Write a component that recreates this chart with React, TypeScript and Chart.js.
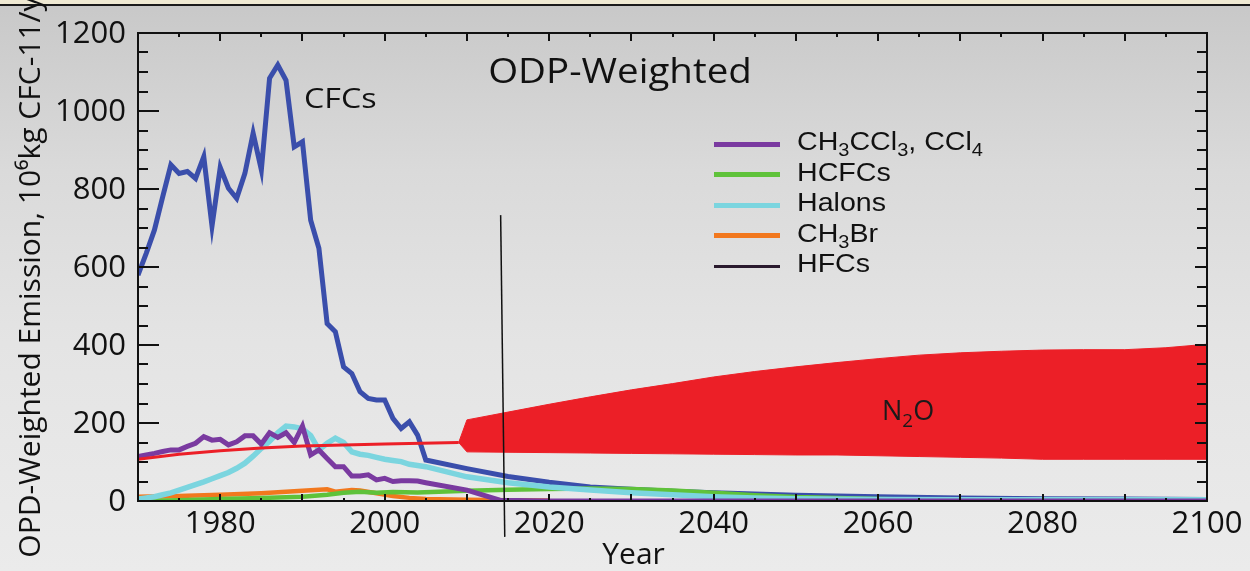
import { useEffect, useRef } from "react";
import { Chart, registerables } from "chart.js";

Chart.register(...registerables);

// ---------- data ----------
const cfcYears = [1970, 1971, 1972, 1973, 1974, 1975, 1976, 1977, 1978, 1979, 1980, 1981, 1982, 1983, 1984, 1985, 1986, 1987, 1988, 1989, 1990, 1991, 1992, 1993, 1994, 1995, 1996, 1997, 1998, 1999, 2000, 2001, 2002, 2003, 2004, 2005, 2010, 2015, 2020, 2025, 2030, 2035, 2040, 2045, 2050, 2060, 2070, 2080, 2090, 2100];
const cfcValues = [579, 635, 695, 780, 862, 840, 845, 827, 883, 705, 855, 802, 776, 840, 943, 849, 1084, 1118, 1079, 908, 921, 720, 648, 455, 434, 344, 327, 280, 263, 259, 259, 212, 186, 203, 169, 105, 83, 63, 48, 36, 30, 25, 21, 18, 15, 11, 8, 6, 5, 4];

const ch3cclYears = [1970, 1971, 1972, 1973, 1974, 1975, 1976, 1977, 1978, 1979, 1980, 1981, 1982, 1983, 1984, 1985, 1986, 1987, 1988, 1989, 1990, 1991, 1992, 1993, 1994, 1995, 1996, 1997, 1998, 1999, 2000, 2001, 2002, 2003, 2004, 2005, 2010, 2014, 2020, 2100];
const ch3cclValues = [114, 118, 122, 127, 131, 131, 140, 148, 165, 156, 158, 144, 152, 167, 167, 146, 175, 163, 175, 150, 192, 118, 131, 109, 88, 88, 64, 64, 67, 54, 58, 50, 52, 52, 51, 47, 28, 2, 0, 0];

const halonYears = [1970, 1971, 1972, 1973, 1974, 1975, 1976, 1977, 1978, 1979, 1980, 1981, 1982, 1983, 1984, 1985, 1986, 1987, 1988, 1989, 1990, 1991, 1992, 1993, 1994, 1995, 1996, 1997, 1998, 1999, 2000, 2001, 2002, 2003, 2004, 2005, 2010, 2015, 2020, 2025, 2030, 2035, 2040, 2045, 2050, 2060, 2070, 2080, 2090, 2100];
const halonValues = [5, 8, 11, 16, 21, 28, 35, 42, 49, 57, 65, 73, 84, 97, 115, 135, 153, 175, 192, 190, 185, 168, 131, 148, 161, 150, 126, 120, 117, 112, 107, 104, 101, 94, 91, 88, 62, 47, 36, 28, 21, 16, 11, 8, 6, 4, 3, 3, 3, 3];

const hcfcYears = [1970, 1975, 1980, 1985, 1990, 1993, 1995, 1997, 1999, 2001, 2004, 2010, 2015, 2020, 2025, 2030, 2035, 2040, 2045, 2050, 2060, 2070, 2080, 2100];
const hcfcValues = [0, 2, 5, 8, 11, 16, 21, 24, 21, 23, 22, 26, 29, 31, 32, 31, 27, 21, 15, 10, 5, 2, 1, 0];

const ch3brYears = [1970, 1975, 1980, 1985, 1990, 1993, 1994, 1996, 1997, 1999, 2001, 2003, 2005, 2010, 2015, 2020];
const ch3brValues = [11, 13, 16, 20, 26, 30, 24, 28, 27, 20, 13, 8, 5, 3, 2, 1];

const n2oYears = [1970, 1975, 1980, 1985, 1990, 2000, 2009];
const n2oValues = [107, 120, 129, 136, 141, 146, 150];

const n2oBandYears = [2009, 2010, 2015, 2020, 2025, 2030, 2035, 2040, 2045, 2050, 2055, 2060, 2065, 2070, 2075, 2080, 2085, 2090, 2095, 2100];
const n2oBandUpper = [150, 208, 228, 248, 267, 285, 301, 318, 332, 344, 355, 365, 374, 380, 384, 387, 388, 388, 393, 402];
const n2oBandLower = [150, 126, 125, 124, 123, 122, 121, 120, 119, 118, 118, 116, 114, 112, 110, 107, 107, 107, 107, 107];

const hfcYears = [2014.1, 2014.6];
const hfcValues = [733, -92];

const yTickLabels = [0, 200, 400, 600, 800, 1000, 1200];
const xTickLabels = [1980, 2000, 2020, 2040, 2060, 2080, 2100];

const legendLabels = ["CH3CCl3, CCl4", "HCFCs", "Halons", "CH3Br", "HFCs"];
const legendColors = ["#7a3aa0", "#5fc23a", "#7bd5df", "#f2781e", "#2a1a2e"];
const legendWidths = [5, 5, 5, 5, 3];

const pts = (xs: number[], ys: number[]) => xs.map((x, i) => ({ x, y: ys[i] }));

const FONT = '"Open Sans", "DejaVu Sans", sans-serif';
const NBSP = "\u00a0";

const frameTicks = {
  id: "frameTicks",
  afterDatasetsDraw(chart: any) {
    const { ctx, chartArea: a, scales } = chart;
    const x = scales.x;
    const y = scales.y;
    ctx.save();
    ctx.strokeStyle = "#111";
    ctx.lineWidth = 2;
    ctx.strokeRect(a.left, a.top, a.right - a.left, a.bottom - a.top);
    ctx.beginPath();
    for (const t of y.ticks) {
      const py = Math.round(y.getPixelForValue(t.value));
      const major = t.value % 200 === 0;
      ctx.moveTo(a.left, py);
      ctx.lineTo(a.left + (major ? 21 : 10), py);
      ctx.moveTo(a.right, py);
      ctx.lineTo(a.right - (major ? 12 : 10), py);
    }
    for (const t of x.ticks) {
      const px = Math.round(x.getPixelForValue(t.value));
      const major = t.value % 10 === 0;
      ctx.moveTo(px, a.bottom);
      ctx.lineTo(px, a.bottom - (major ? 7 : 3));
      ctx.moveTo(px, a.top);
      ctx.lineTo(px, a.top + (major ? 8 : 4));
    }
    ctx.stroke();
    ctx.restore();
  },
};

function Sub({ text }: { text: string }) {
  const parts = text.split(/(\d)/).filter((p) => p !== "");
  return (
    <>
      {parts.map((p, i) =>
        /\d/.test(p) ? (
          <sub key={i} style={{ fontSize: "0.7em", verticalAlign: "-0.35em", lineHeight: 0 }}>
            {p}
          </sub>
        ) : (
          <span key={i}>{p}</span>
        )
      )}
    </>
  );
}

export default function App() {
  const ref = useRef<HTMLCanvasElement>(null);

  useEffect(() => {
    const line = (label: string, xs: number[], ys: number[], color: string, width: number, order: number) => ({
      label,
      data: pts(xs, ys),
      borderColor: color,
      backgroundColor: color,
      borderWidth: width,
      pointRadius: 0,
      tension: 0,
      fill: false,
      order,
    });

    const chart = new Chart(ref.current!, {
      type: "line",
      data: {
        datasets: [
          { ...line("HFCs", hfcYears, hfcValues, "#111", 1.5, 0), clip: false } as any,
          { ...line("N₂O upper", n2oBandYears, n2oBandUpper, "#ec1f27", 1, 1) },
          { ...line("N₂O lower", n2oBandYears, n2oBandLower, "#ec1f27", 1, 1), fill: "-1", backgroundColor: "#ec1f27" },
          line("N₂O", n2oYears, n2oValues, "#ec1f27", 3, 2),
          line("CH₃CCl₃, CCl₄", ch3cclYears, ch3cclValues, legendColors[0], 5, 3),
          line("Halons", halonYears, halonValues, legendColors[2], 5.5, 4),
          line("HCFCs", hcfcYears, hcfcValues, legendColors[1], 4.5, 5),
          line("CFCs", cfcYears, cfcValues, "#3a4eab", 5, 6),
          line("CH₃Br", ch3brYears, ch3brValues, legendColors[3], 4.5, 7),
        ],
      },
      options: {
        responsive: false,
        animation: false,
        devicePixelRatio: 1,
        layout: { padding: { top: 33, right: 43, left: 0, bottom: 0 } },
        plugins: { legend: { display: false }, tooltip: { enabled: false } },
        scales: {
          x: {
            type: "linear",
            min: 1970,
            max: 2100,
            border: { display: false },
            grid: { display: false, drawTicks: false },
            ticks: {
              stepSize: 5,
              autoSkip: false,
              maxRotation: 0,
              padding: 5,
              color: "#111",
              font: { family: FONT, size: 31 },
              callback: (v: any) => (xTickLabels.includes(Number(v)) ? String(v) : ""),
            },
            title: {
              display: true,
              text: "Year" + NBSP.repeat(10),
              color: "#111",
              font: { family: FONT, size: 30 },
              padding: { top: 0, bottom: -2 },
            },
            afterFit: (s: any) => {
              s.height = 70;
            },
          },
          y: {
            type: "linear",
            min: 0,
            max: 1200,
            border: { display: false },
            grid: { display: false, drawTicks: false },
            ticks: {
              stepSize: 50,
              autoSkip: false,
              padding: 12,
              labelOffset: 1,
              color: "#111",
              font: { family: FONT, size: 31 },
              callback: (v: any) => (yTickLabels.includes(Number(v)) ? String(v) : ""),
            },
            title: {
              display: true,
              text: "OPD-Weighted Emission, 10⁶kg CFC-11/yr" + NBSP,
              color: "#111",
              font: { family: FONT, size: 30 },
              padding: { top: 13, bottom: 0 },
            },
            afterFit: (s: any) => {
              s.width = 138;
            },
          },
        },
      },
      plugins: [frameTicks],
    } as any);
    return () => chart.destroy();
  }, []);

  const legendTop = 129;
  const legendStep = 30.6;

  return (
    <div
      style={{
        position: "fixed",
        left: 0,
        top: 0,
        width: 1250,
        height: 571,
        overflow: "hidden",
        background: "linear-gradient(#c8c8c8 0%, #dadada 30%, #e4e4e4 60%, #ebebeb 100%)",
      }}
    >
      <div
        style={{
          position: "absolute",
          left: 0,
          top: 0,
          width: 1250,
          height: 4,
          background: "#efe9d3",
          borderBottom: "2px solid #1a1a1a",
        }}
      />
      <canvas ref={ref} width={1250} height={571} style={{ position: "absolute", left: 0, top: 0, width: 1250, height: 571 }} />
      <div
        style={{
          position: "absolute",
          left: 620,
          top: 52,
          transform: "translateX(-50%) scaleX(1.1)",
          fontFamily: FONT,
          fontSize: 35,
          lineHeight: 1,
          color: "#111",
          whiteSpace: "nowrap",
        }}
      >
        ODP-Weighted
      </div>
      <div
        style={{
          position: "absolute",
          left: 304,
          top: 83,
          transform: "scaleX(1.15)",
          transformOrigin: "left",
          fontFamily: FONT,
          fontSize: 28,
          lineHeight: 1,
          color: "#111",
        }}
      >
        CFCs
      </div>
      <div style={{ position: "absolute", left: 882, top: 396, fontFamily: FONT, fontSize: 27, lineHeight: 1, color: "#1a1a1a" }}>
        <Sub text="N2O" />
      </div>
      {legendLabels.map((lab, i) => (
        <div
          key={lab}
          style={{
            position: "absolute",
            left: 714,
            top: legendTop + i * legendStep,
            height: 30,
            display: "flex",
            alignItems: "center",
            whiteSpace: "nowrap",
          }}
        >
          <span style={{ display: "inline-block", width: 66, height: legendWidths[i], background: legendColors[i] }} />
          <span
            style={{
              marginLeft: 17,
              position: "relative",
              top: -3,
              display: "inline-block",
              transform: "scaleX(1.1)",
              transformOrigin: "left",
              fontFamily: '"Liberation Sans", Arial, sans-serif',
              fontSize: 26,
              lineHeight: "30px",
              color: "#111",
            }}
          >
            <Sub text={lab} />
          </span>
        </div>
      ))}
    </div>
  );
}
